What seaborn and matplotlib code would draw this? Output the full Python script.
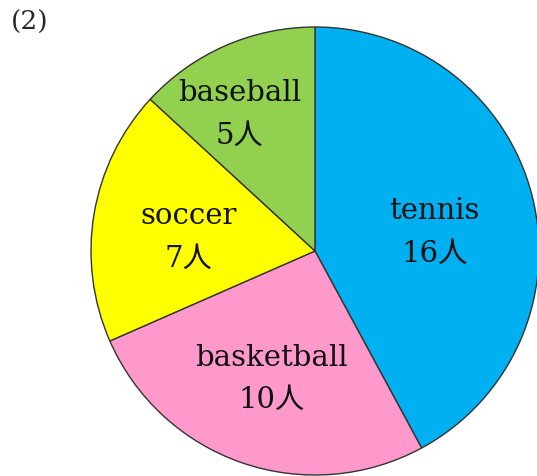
import numpy as np
import matplotlib
matplotlib.use('Agg')
import matplotlib.pyplot as plt
import seaborn as sns

# data
sports = ['tennis', 'basketball', 'soccer', 'baseball']
counts = [16, 10, 7, 5]
colors = ['#00B0F0', '#FF99CC', '#FFFF00', '#92D050']
label_r = [0.54, 0.60, 0.57, 0.70]   # label distance from centre
label_shift = [-5, 0, 3, 5]           # small angle tweaks (deg)

sns.set_theme(style='white')
plt.rcParams['font.family'] = ['DejaVu Serif', 'Noto Sans CJK JP']

fig = plt.figure(figsize=(5.37, 4.77), dpi=100)
ax = fig.add_axes([91 / 537, 1 / 477, 448 / 537, 448 / 477])

pal = sns.color_palette(colors)
wedges, _ = ax.pie(counts, colors=pal, startangle=90, counterclock=False,
                   radius=1.0, wedgeprops=dict(edgecolor='#333333', linewidth=1.0))

# labels inside each wedge
for w, name, n, r, dth in zip(wedges, sports, counts, label_r, label_shift):
    mid = np.deg2rad((w.theta1 + w.theta2) / 2 + dth)
    ax.text(r * np.cos(mid), r * np.sin(mid), f'{name}\n{n}人',
            ha='center', va='center', fontsize=21, linespacing=1.65,
            color='#111111')

ax.set_xlim(-1, 1)
ax.set_ylim(-1, 1)
ax.set_aspect('equal')
ax.axis('off')

fig.text(11 / 537, 1 - 22 / 477, '(2)', fontsize=19, va='center', ha='left')

plt.savefig('out.png', dpi=100)
